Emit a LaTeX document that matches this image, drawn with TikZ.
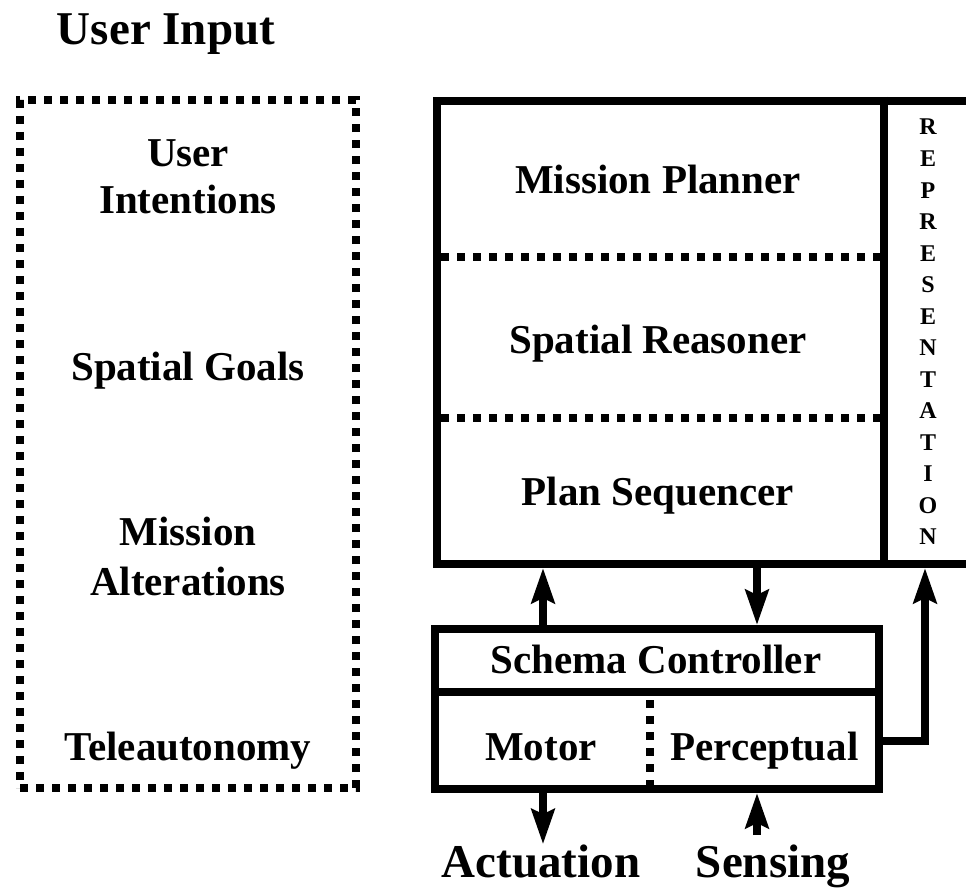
\documentclass[tikz,border=0pt]{standalone}
\usepackage{fontspec}
\setmainfont{Liberation Serif}
\usetikzlibrary{arrows.meta}
\begin{document}
\begin{tikzpicture}[x=1pt,y=-1pt,
  solidbox/.style={draw, rectangle, line width=8pt, inner sep=0pt, outer sep=4pt},
  dotbox/.style={draw, rectangle, line width=8pt, inner sep=0pt, outer sep=4pt, dash pattern=on 8pt off 8pt},
  dotline/.style={line width=8pt, dash pattern=on 8pt off 8pt},
  solidline/.style={line width=8pt},
  arr/.style={line width=8pt, line join=miter, -{Stealth[length=35pt,width=23pt,inset=5pt]}},
  lbl/.style={inner sep=0pt, anchor=base, font=\bfseries\fontsize{41}{47}\selectfont},
  biglbl/.style={inner sep=0pt, anchor=base, font=\bfseries\fontsize{47}{54}\selectfont},
  replbl/.style={inner sep=0pt, anchor=base, font=\bfseries\fontsize{24}{28}\selectfont}
]
\useasboundingbox (0,0) rectangle (966,888);
\clip (0,0) rectangle (966,888);

% title
\node[biglbl] (userinput) at (166,45) {User Input};

% left dotted box
\node[dotbox, minimum width=336pt, minimum height=688pt] (leftbox) at (188,444) {};
\node[lbl] (userA) at (188,166) {User};
\node[lbl] (userB) at (188,213) {Intentions};
\node[lbl] (spgoals) at (188,380) {Spatial Goals};
\node[lbl] (misA) at (188,545) {Mission};
\node[lbl] (misB) at (188,595) {Alterations};
\node[lbl] (tele) at (188,760) {Teleautonomy};

% core box (cut at right edge)
\node[solidbox, minimum width=563pt, minimum height=463pt] (core) at (718.5,332.5) {};
\coordinate (divx) at (884,0);
\draw[solidline] (core.north -| divx) -- (core.south -| divx);
\coordinate (dl) at (441,0);
\coordinate (dr) at (880,0);
\coordinate (d1) at (0,257);
\coordinate (d2) at (0,418);
\draw[dotline] (dl |- d1) -- (dr |- d1);
\draw[dotline] (dl |- d2) -- (dr |- d2);
\node[lbl] (mplan) at (658,193) {Mission Planner};
\node[lbl] (sreason) at (658,353) {Spatial Reasoner};
\node[lbl] (pseq) at (658,505) {Plan Sequencer};

\foreach \l [count=\i] in {R,E,P,R,E,S,E,N,T,A,T,I,O,N}
  \node[replbl] (rep\i) at (928,{135+31.5*(\i-1)}) {\l};

% schema controller
\node[solidbox, minimum width=444pt, minimum height=63pt] (schema) at (657,660.5) {};
\node[solidbox, minimum width=444pt, minimum height=97pt] (lower) at (657,740.5) {};
\coordinate (mdiv) at (650,0);
\draw[dotline] (mdiv |- schema.south) ++(0,4) -- (mdiv |- lower.south);
\node[lbl] (schtxt) at (656,673) {Schema Controller};
\node[lbl] (motor) at (541,760) {Motor};
\node[lbl] (percep) at (764.5,760) {Perceptual};

% connectors
\coordinate (ux) at (543,0);
\coordinate (dx) at (757,0);
\coordinate (rx) at (925,0);
\draw[arr] (schema.north -| ux) -- (core.south -| ux);
\draw[arr] (core.south -| dx) -- (schema.north -| dx);
\draw[arr] (lower.east) -| (core.south -| rx);

\node[biglbl] (act) at (541,877) {Actuation};
\node[biglbl] (sens) at (773,877) {Sensing};
\draw[arr] (lower.south -| ux) -- (act.north -| ux);
\coordinate (sstart) at (757,835);
\draw[arr] (sstart) -- (lower.south -| sstart);
\end{tikzpicture}
\end{document}
